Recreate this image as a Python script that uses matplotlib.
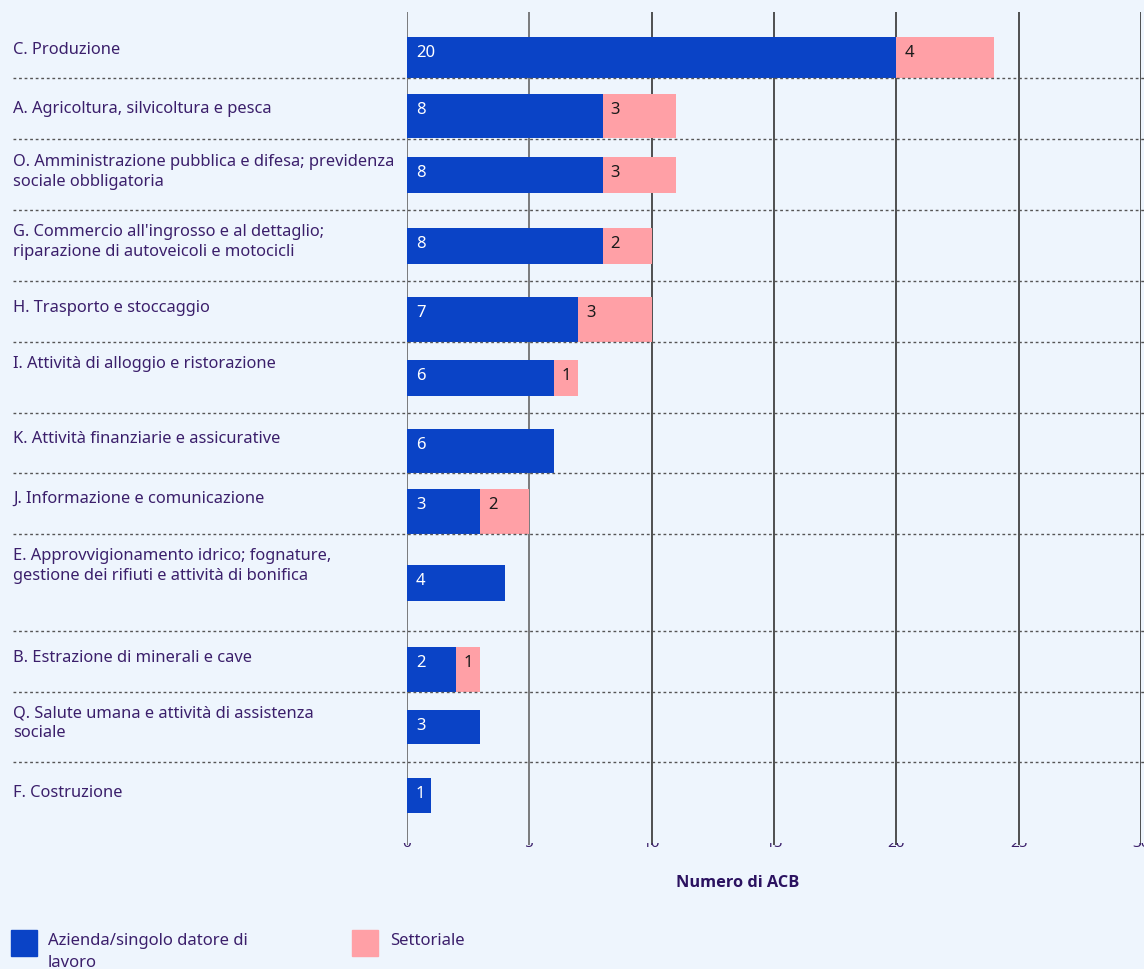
import matplotlib.pyplot as plt
from matplotlib.transforms import Bbox, ScaledTranslation, blended_transform_factory

plt.rcParams['font.family'] = ['Noto Sans', 'DejaVu Sans']

## Data
sectors = ["C. Produzione",
           "A. Agricoltura, silvicoltura e pesca",
           "O. Amministrazione pubblica e difesa; previdenza\nsociale obbligatoria",
           "G. Commercio all'ingrosso e al dettaglio;\nriparazione di autoveicoli e motocicli",
           "H. Trasporto e stoccaggio",
           "I. Attività di alloggio e ristorazione",
           "K. Attività finanziarie e assicurative",
           "J. Informazione e comunicazione",
           "E. Approvvigionamento idrico; fognature,\ngestione dei rifiuti e attività di bonifica",
           "B. Estrazione di minerali e cave",
           "Q. Salute umana e attività di assistenza\nsociale",
           "F. Costruzione"]
azienda = [20, 8, 8, 8, 7, 6, 6, 3, 4, 2, 3, 1]
settoriale = [4, 3, 3, 2, 3, 1, 0, 2, 0, 1, 0, 0]
xticks = [0, 5, 10, 15, 20, 25, 30]

## Layout (pixel rows, top-down)
bar_top = [37, 94, 157, 228, 297, 360, 429, 489, 565, 647, 710, 778]
bar_bot = [78, 138, 193, 264, 342, 396, 473, 534, 601, 692, 744, 813]
label_y = [48, 107, 160, 230, 306, 362, 437, 497, 554, 656, 711, 791]
separators = [78, 139, 210, 281, 342, 413, 473, 534, 631, 692, 762]

BG = '#eef5fd'
BLUE = '#0a43c6'
PINK = '#ffa0a6'
TXT = '#3b1f6b'

W, H = 1144, 969
fig = plt.figure(figsize=(W / 100, H / 100), dpi=100, facecolor=BG)
ax = fig.add_axes([407 / W, 1 - 845 / H, (1141 - 407) / W, (845 - 12) / H])
ax.set_facecolor(BG)
ax.set_xlim(0, 30)
ax.set_ylim(845, 12)
for s in ax.spines.values():
    s.set_visible(False)
ax.set_xticks([])
ax.set_yticks([])

# vertical gridlines
for x in xticks:
    ax.axvline(x, color='#666666' if x in (0, 5) else '#333333', lw=1.2, zorder=1)

# dotted row separators running across the full width
trans = blended_transform_factory(fig.transFigure, ax.transData)
for y in separators:
    ax.plot([13 / W, 1], [y, y], transform=trans, clip_on=False,
            color='#555555', lw=1, ls=(0, (2, 2)), zorder=3)

blue_off = ax.transData + ScaledTranslation(9 / 100, 0, fig.dpi_scale_trans)
pink_off = ax.transData + ScaledTranslation(8 / 100, 0, fig.dpi_scale_trans)
for i, name in enumerate(sectors):
    top, bot = bar_top[i], bar_bot[i]
    ax.barh((top + bot) / 2, azienda[i], height=bot - top, color=BLUE, zorder=2)
    ax.text(0, top + 16, str(azienda[i]), color='white', fontsize=12,
            va='center', ha='left', zorder=4, transform=blue_off)
    if settoriale[i]:
        ax.barh((top + bot) / 2, settoriale[i], left=azienda[i], height=bot - top,
                color=PINK, zorder=2)
        ax.text(azienda[i], top + 16, str(settoriale[i]), color='#1a1a1a', fontsize=12,
                va='center', ha='left', zorder=4, transform=pink_off)
    ax.text(13 / W, label_y[i] - 6, name, transform=trans, color=TXT, fontsize=11.85,
            va='top', ha='left', linespacing=1.36, clip_on=False)

# tick labels, mostly hidden behind the lower edge of the plot area
clip = Bbox.from_extents(0, H - 849, W, H - 843)
for x in xticks:
    t = ax.text(x, 836, str(x), color=TXT, fontsize=11, ha='center', va='top', zorder=5)
    t.set_clip_box(clip)
    t.set_clip_on(True)

fig.text(738 / W, 1 - 883 / H, 'Numero di ACB', color='#2b1260', fontsize=11.8,
         family=['Open Sans', 'DejaVu Sans'], fontweight='bold',
         ha='center', va='center')

# legend
fig.patches.append(plt.Rectangle((11 / W, 1 - 956 / H), 26 / W, 26 / H,
                                 transform=fig.transFigure, color=BLUE))
fig.patches.append(plt.Rectangle((352 / W, 1 - 956 / H), 26 / W, 26 / H,
                                 transform=fig.transFigure, color=PINK))
fig.text(48 / W, 1 - 933 / H, 'Azienda/singolo datore di\nlavoro', color=TXT,
         fontsize=12, va='top', ha='left', linespacing=1.5)
fig.text(390 / W, 1 - 933 / H, 'Settoriale', color=TXT, fontsize=12,
         va='top', ha='left')

fig.savefig('out.png', dpi=100, facecolor=BG)
